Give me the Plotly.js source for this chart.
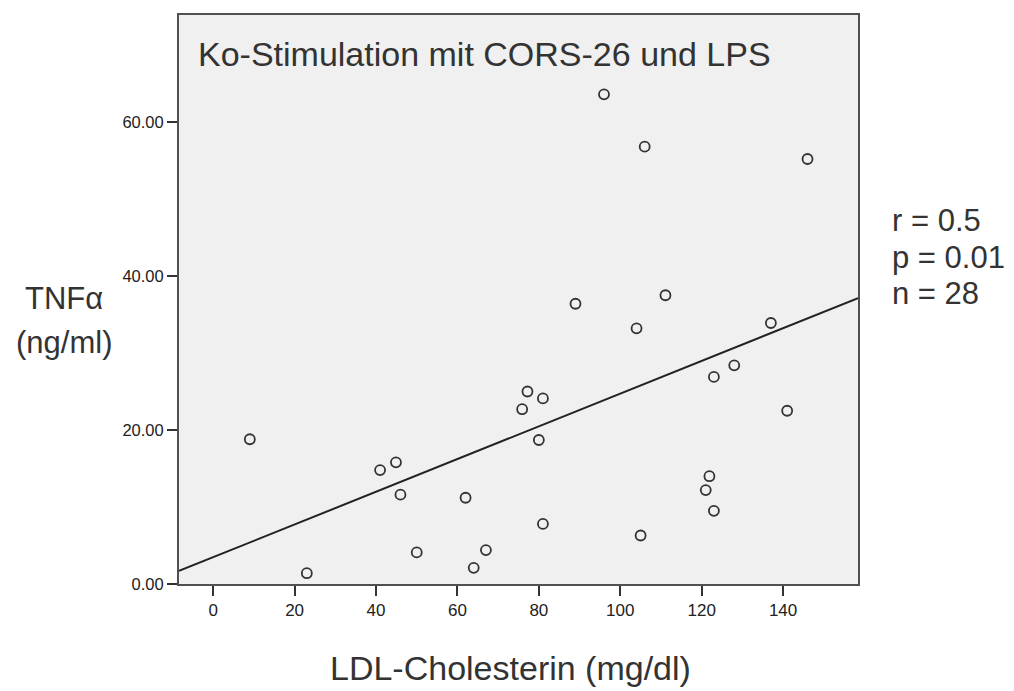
<!DOCTYPE html>
<html>
<head>
<meta charset="utf-8">
<script src="https://cdn.plot.ly/plotly-3.0.1.min.js"></script>
<style>
  html, body { margin: 0; padding: 0; background: #fff; }
  #chart { width: 1014px; height: 691px; }
</style>
</head>
<body>
<div id="chart"></div>
<script>
// LDL-Cholesterin (mg/dl)
const ldl = [9, 23, 41, 44.9, 46, 50, 62, 64, 67, 75.9, 77.2, 81, 80, 81, 105, 121.9, 121, 123, 141, 89, 111.1, 104, 137, 123, 128, 96, 106, 146];
// TNF-alpha (ng/ml)
const tnf = [18.8, 1.4, 14.8, 15.8, 11.6, 4.1, 11.2, 2.1, 4.4, 22.7, 25.0, 24.1, 18.7, 7.8, 6.3, 14.0, 12.2, 9.5, 22.5, 36.4, 37.5, 33.2, 33.9, 26.9, 28.4, 63.6, 56.8, 55.2];

const xTicks = [0, 20, 40, 60, 80, 100, 120, 140];
const yTicks = [0, 20, 40, 60];
const xRange = [-8.4, 158.4];
const yRange = [0, 73.9];

const chartTitle = "Ko-Stimulation mit CORS-26 und LPS";
const xTitle = "LDL-Cholesterin (mg/dl)";
const yTitleLines = ["TNFα", "(ng/ml)"];
const statsLines = ["r = 0.5", "p = 0.01", "n = 28"];

// least squares fit
const n = ldl.length;
const mx = ldl.reduce((a, b) => a + b, 0) / n;
const my = tnf.reduce((a, b) => a + b, 0) / n;
let sxy = 0, sxx = 0;
for (let i = 0; i < n; i++) { sxy += (ldl[i] - mx) * (tnf[i] - my); sxx += (ldl[i] - mx) ** 2; }
const slope = sxy / sxx;
const intercept = my - slope * mx;
const fitX = xRange.slice();
const fitY = fitX.map(x => intercept + slope * x);

const FONT = '"Liberation Sans", Arial, sans-serif';
const TXT = '#333333';

const traces = [
  {
    x: fitX, y: fitY, mode: 'lines', type: 'scatter',
    line: { color: '#222222', width: 2 },
    hoverinfo: 'skip', showlegend: false
  },
  {
    x: ldl, y: tnf, mode: 'markers', type: 'scatter',
    marker: { symbol: 'circle-open', size: 10, color: '#333333', line: { width: 1.8, color: '#333333' } },
    showlegend: false
  }
];

const annotations = [
  { text: chartTitle, xref: 'paper', yref: 'paper', x: 0.0255, y: 0.932, xanchor: 'left', yanchor: 'middle', showarrow: false, font: { family: FONT, size: 34, color: TXT } },
  { text: xTitle, xref: 'paper', yref: 'paper', x: 0.4875, y: -0.1476, xanchor: 'center', yanchor: 'middle', showarrow: false, font: { family: FONT, size: 34, color: TXT } },
  { text: yTitleLines[0], xref: 'paper', yref: 'paper', x: -0.169, y: 0.501, xanchor: 'center', yanchor: 'middle', showarrow: false, font: { family: FONT, size: 31, color: TXT } },
  { text: yTitleLines[1], xref: 'paper', yref: 'paper', x: -0.169, y: 0.4236, xanchor: 'center', yanchor: 'middle', showarrow: false, font: { family: FONT, size: 31, color: TXT } },
];
const statY = [0.6385, 0.5738, 0.5097];
statsLines.forEach((t, i) => {
  annotations.push({ text: t, xref: 'paper', yref: 'paper', x: 1.047, y: statY[i], xanchor: 'left', yanchor: 'middle', showarrow: false, font: { family: FONT, size: 31, color: TXT } });
});

const layout = {
  width: 1014, height: 691,
  margin: { l: 179, r: 156, t: 15, b: 107, pad: 0 },
  paper_bgcolor: '#ffffff',
  plot_bgcolor: '#f0f0f0',
  showlegend: false,
  xaxis: {
    range: xRange, tickvals: xTicks, ticktext: xTicks.map(String),
    showgrid: false, zeroline: false,
    showline: true, mirror: true, linecolor: '#505050', linewidth: 2,
    ticks: 'outside', ticklen: 10, tickwidth: 2, tickcolor: '#333',
    tickfont: { family: FONT, size: 17, color: '#222' }
  },
  yaxis: {
    range: yRange, tickvals: yTicks, ticktext: yTicks.map(v => v.toFixed(2)),
    showgrid: false, zeroline: false,
    showline: true, mirror: true, linecolor: '#505050', linewidth: 2,
    ticks: 'outside', ticklen: 10, tickwidth: 2, tickcolor: '#333',
    tickfont: { family: FONT, size: 16.5, color: '#222' }
  },
  annotations: annotations
};

Plotly.newPlot('chart', traces, layout, { displayModeBar: false, staticPlot: true });
</script>
</body>
</html>
